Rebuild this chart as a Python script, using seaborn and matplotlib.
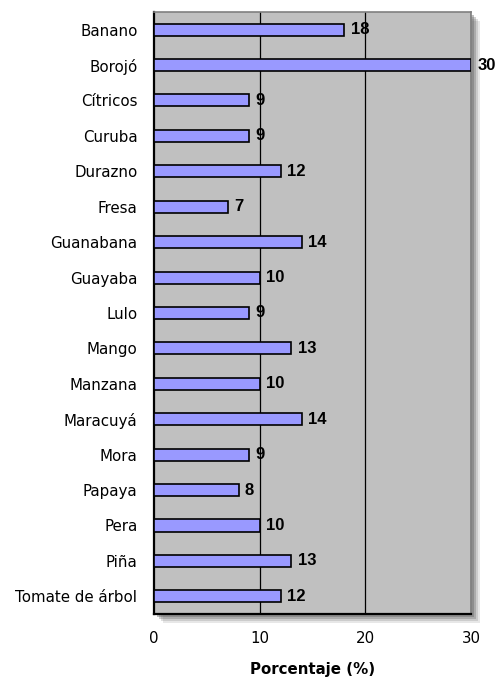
import matplotlib
matplotlib.use("Agg")
import matplotlib.pyplot as plt
import seaborn as sns
import pandas as pd
from matplotlib.patches import Rectangle

categorias = ["Banano", "Borojó", "Cítricos", "Curuba", "Durazno", "Fresa",
              "Guanabana", "Guayaba", "Lulo", "Mango", "Manzana", "Maracuyá",
              "Mora", "Papaya", "Pera", "Piña", "Tomate de árbol"]
valores = [18, 30, 9, 9, 12, 7, 14, 10, 9, 13, 10, 14, 9, 8, 10, 13, 12]
xticks = [0, 10, 20, 30]
xlabel = "Porcentaje (%)"

df = pd.DataFrame({"fruta": categorias, "pct": valores})

sns.set_theme(style="white")
plt.rcParams["font.family"] = ["DejaVu Sans"]
plt.rcParams["text.color"] = "black"
plt.rcParams["xtick.color"] = "black"
plt.rcParams["ytick.color"] = "black"
plt.rcParams["axes.labelcolor"] = "black"

fig = plt.figure(figsize=(4.97, 6.85), dpi=100)
L, B, W, H = 0.31, 0.1036, 0.638, 0.879
ax = fig.add_axes([L, B, W, H])
ax.set_zorder(2)

# soft shadow of plot area
for px, a in [(9, 0.15), (7, 0.2), (5, 0.3), (3, 0.4)]:
    fig.patches.append(Rectangle((L + px / 497, B - px / 685), W, H,
                                 transform=fig.transFigure, facecolor="#606060",
                                 edgecolor="none", zorder=0, alpha=a))

ax.set_facecolor("#c0c0c0")
sns.barplot(data=df, x="pct", y="fruta", orient="h", ax=ax,
            color="#9999ff", saturation=1, width=0.34,
            edgecolor="black", linewidth=1.2, zorder=3)

ax.set_xlim(0, 30)
ax.set_ylim(len(categorias) - 0.5, -0.5)
ax.set_xticks(xticks)
ax.set_xticklabels([str(t) for t in xticks], fontsize=10.8)
for t in xticks[1:]:
    ax.axvline(t, color="black", linewidth=0.9, zorder=1)

ax.set_yticks(range(len(categorias)))
ax.set_yticklabels(categorias, fontsize=10.8)
ax.tick_params(axis="y", which="major", length=0, pad=12)
ax.set_yticks([i - 0.5 for i in range(len(categorias) + 1)], minor=True)
ax.tick_params(axis="y", which="minor", length=5, width=1.5, direction="out", color="black")
ax.tick_params(axis="x", length=4, width=1, direction="in", color="black", pad=12)

ax.set_xlabel(xlabel, fontsize=10.8, fontweight="bold", labelpad=12)
ax.set_ylabel("")

for s in ["left", "bottom"]:
    ax.spines[s].set_color("black")
    ax.spines[s].set_linewidth(1.6)
for s in ["top", "right"]:
    ax.spines[s].set_color("#808080")
    ax.spines[s].set_linewidth(1.2)

for i, v in enumerate(valores):
    ax.annotate(str(v), xy=(v, i), xytext=(4.5, 0), textcoords="offset points",
                va="center", ha="left", fontsize=12, fontweight="bold",
                family=["Liberation Sans", "DejaVu Sans"],
                color="black", annotation_clip=False, zorder=5)

fig.savefig("out.png", dpi=100)
